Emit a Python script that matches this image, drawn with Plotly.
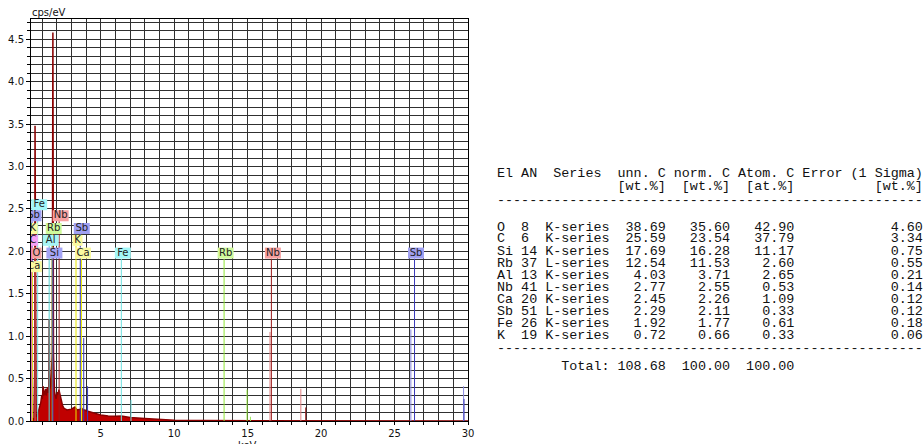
import plotly.graph_objects as go

# ---------------- spectrum (cps/eV vs keV) ----------------
spec_keV = [0.25, 0.27, 0.30, 0.45, 0.50, 0.525, 0.55, 0.60, 0.70, 0.80, 0.86, 0.92, 0.98, 1.02,
            1.08, 1.12, 1.16, 1.20, 1.24, 1.28, 1.33, 1.38, 1.42, 1.46, 1.487, 1.52, 1.60, 1.70,
            1.74, 1.78, 1.85, 1.95, 2.00, 2.05, 2.10, 2.15, 2.20, 2.25, 2.30, 2.40, 2.50, 2.70,
            3.00, 3.24, 3.30, 3.40, 3.60, 3.70, 3.80, 3.92, 4.00, 4.20, 4.40, 4.60, 5.00, 5.50,
            6.00, 6.40, 7.00, 8.00, 9.00, 10.0, 12.0, 30.0]
spec_cps = [0.00, 0.05, 0.03, 0.02, 0.60, 3.48, 0.60, 0.05, 0.08, 0.15, 0.17, 0.22, 0.30, 0.26,
            0.41, 0.30, 0.36, 0.31, 0.38, 0.30, 0.36, 0.40, 0.33, 0.38, 1.20, 0.38, 0.42, 0.80,
            4.58, 0.80, 0.35, 0.26, 0.30, 0.34, 0.31, 0.37, 0.33, 0.29, 0.24, 0.18, 0.15, 0.13,
            0.14, 0.165, 0.15, 0.13, 0.14, 0.15, 0.13, 0.13, 0.12, 0.11, 0.10, 0.09, 0.07, 0.06,
            0.055, 0.06, 0.04, 0.03, 0.02, 0.01, 0.005, 0.0]

# ---------------- element labels ----------------
lab_text = ["Fe", "Sb", "Nb", "K", "Rb", "Sb", "C", "Al", "K", "O", "Si", "Ca", "Fe", "Rb", "Nb", "Sb", "Ca"]
lab_line_keV = [0.705, 0.32, 2.166, 0.26, 1.694, 3.604, 0.277, 1.487, 3.314, 0.525, 1.740, 3.690,
                6.400, 13.395, 16.615, 26.359, 0.341]
lab_level = [2.55, 2.42, 2.42, 2.27, 2.27, 2.27, 2.13, 2.13, 2.13, 1.98, 1.98, 1.98, 1.98, 1.98,
             1.98, 1.98, 1.82]

# ---------------- theoretical line intensities ----------------
peak_el = ["Rb", "Rb", "Nb", "Nb", "Nb", "Sb", "Sb", "Sb", "Fe", "Sb", "Sb", "Ca"]
peak_keV = [14.96, 15.19, 16.52, 18.62, 18.95, 26.11, 29.70, 29.73, 7.06, 3.84, 4.10, 3.70]
peak_cps = [0.37, 0.05, 1.05, 0.38, 0.16, 1.08, 0.41, 0.26, 0.25, 0.98, 0.41, 0.31]
peak_dark = [True, False, False, False, True, False, False, True, False, True, True, False]

# ---------------- quantification table ----------------
tab_el = ["O", "C", "Si", "Rb", "Al", "Nb", "Ca", "Sb", "Fe", "K"]
tab_an = [8, 6, 14, 37, 13, 41, 20, 51, 26, 19]
tab_series = ["K-series", "K-series", "K-series", "L-series", "K-series", "L-series",
              "K-series", "L-series", "K-series", "K-series"]
tab_unn = [38.69, 25.59, 17.69, 12.54, 4.03, 2.77, 2.45, 2.29, 1.92, 0.72]
tab_norm = [35.60, 23.54, 16.28, 11.53, 3.71, 2.55, 2.26, 2.11, 1.77, 0.66]
tab_atom = [42.90, 37.79, 11.17, 2.60, 2.65, 0.53, 1.09, 0.33, 0.61, 0.33]
tab_err = [4.60, 3.34, 0.75, 0.55, 0.21, 0.14, 0.12, 0.12, 0.18, 0.06]
tab_total = [108.68, 100.00, 100.00]

# colours (box fill, line)
el_colors = {
    "Fe": ("#a3f7f7", "#6ee0e0"),
    "Sb": ("#a0a0f2", "#3a3ab8"),
    "Nb": ("#f7a0a0", "#9a1c1c"),
    "K": ("#fafaa0", "#e8e800"),
    "Rb": ("#d0fa9c", "#8fe636"),
    "C": ("#f7a0f7", "#e050e0"),
    "Al": ("#a8f5f5", "#58d4d4"),
    "O": ("#f7a0a0", "#e06868"),
    "Si": ("#a4a4f5", "#4646cc"),
    "Ca": ("#fafaa0", "#e8e800"),
}
light_line = {"Rb": "#9ae85a", "Nb": "#e08080", "Sb": "#8888e0", "Fe": "#70e0e0", "Ca": "#f0a040"}

X0, X1 = 0.25, 30.0
Y0, Y1 = 0.0, 4.74
PX_L, PX_R, PX_T, PX_B = 31, 468, 19, 421
kev_per_px = (X1 - X0) / (PX_R - PX_L)
cps_per_px = (Y1 - Y0) / (PX_B - PX_T)

fig = go.Figure()

# spectrum
fig.add_trace(go.Scatter(x=spec_keV, y=spec_cps, mode="lines", fill="tozeroy",
                         line=dict(color="#8a0000", width=1.5), fillcolor="#c00000",
                         hoverinfo="skip", showlegend=False))

# light theoretical lines
for el, e, h, dark in zip(peak_el, peak_keV, peak_cps, peak_dark):
    col = el_colors[el][1] if dark else light_line[el]
    fig.add_trace(go.Scatter(x=[e, e], y=[0, h], mode="lines", line=dict(color=col, width=1),
                             hoverinfo="skip", showlegend=False))

# marker lines
box_h = 11 * cps_per_px
for t, e, lv in zip(lab_text, lab_line_keV, lab_level):
    fig.add_trace(go.Scatter(x=[e, e], y=[0, lv - box_h / 2], mode="lines",
                             line=dict(color=el_colors[t][1], width=1), hoverinfo="skip",
                             showlegend=False))

# label boxes (filled polygons, clipped to the plot area) then their text
for t, e, lv in zip(lab_text, lab_line_keV, lab_level):
    fill = el_colors[t][0]
    w = (16 if len(t) == 2 else 10) * kev_per_px
    cx = e + 1.5 * kev_per_px
    xa, xb = cx - w / 2, cx + w / 2
    ya, yb = lv - box_h / 2, lv + box_h / 2
    fig.add_trace(go.Scatter(x=[xa, xb, xb, xa, xa], y=[ya, ya, yb, yb, ya], mode="lines",
                             fill="toself", fillcolor=fill, line=dict(width=0, color=fill),
                             hoverinfo="skip", showlegend=False))
for t, e, lv in zip(lab_text, lab_line_keV, lab_level):
    cx = e + 1.5 * kev_per_px
    fig.add_trace(go.Scatter(x=[cx], y=[lv], mode="text", text=[t], cliponaxis=True,
                             textfont=dict(family="DejaVu Sans", size=10, color="#222"),
                             hoverinfo="skip", showlegend=False))

# table as monospace text lines
NB = "\u00a0"
def mono(s):
    return s.replace(" ", NB)

lines = []
lines.append(("El AN  Series  unn. C norm. C Atom. C Error (1 Sigma)", 173))
lines.append((" " * 15 + "[wt.%]  [wt.%]  [at.%]" + " " * 10 + "[wt.%]", 186))
lines.append(("-" * 53, 200))
for i in range(len(tab_el)):
    s = f"{tab_el[i]:<2} {tab_an[i]:<2} {tab_series[i]:<8}{tab_unn[i]:>7.2f}{tab_norm[i]:>8.2f}{tab_atom[i]:>8.2f}{tab_err[i]:>16.2f}"
    lines.append((s, 227 + 12 * i))
lines.append(("-" * 53, 348))
lines.append((f"{'Total:':>14}{tab_total[0]:>7.2f}{tab_total[1]:>8.2f}{tab_total[2]:>8.2f}", 366))

annotations = []
for s, ypx in lines:
    annotations.append(dict(xref="paper", yref="paper", x=(496 - PX_L) / (PX_R - PX_L),
                            y=(PX_B - ypx) / (PX_B - PX_T), xanchor="left", yanchor="middle",
                            text=mono(s), showarrow=False, borderpad=0,
                            font=dict(family="Liberation Mono", size=13.4, color="#111")))

annotations.append(dict(xref="paper", yref="paper", x=0.0, y=1.0, xanchor="left", yanchor="bottom",
                        text="cps/eV", showarrow=False, borderpad=0,
                        font=dict(family="DejaVu Sans", size=10, color="#111")))
annotations.append(dict(xref="x", yref="paper", x=15.0, y=-(445 - PX_B) / (PX_B - PX_T),
                        xanchor="center", yanchor="middle", text="keV", showarrow=False,
                        borderpad=0, font=dict(family="DejaVu Sans", size=10, color="#111")))

grid_col = "#303030"
fig.update_layout(
    width=924, height=444,
    margin=dict(l=PX_L, r=924 - PX_R, t=PX_T, b=444 - PX_B),
    paper_bgcolor="white", plot_bgcolor="white",
    annotations=annotations,
    xaxis=dict(range=[X0, X1], tick0=0, dtick=5, showgrid=True, gridcolor=grid_col, gridwidth=1,
               ticks="outside", ticklen=3, tickcolor="black", zeroline=False, automargin=False,
               showline=True, linecolor="black", linewidth=1, mirror=True,
               minor=dict(dtick=1, showgrid=True, gridcolor=grid_col, ticks="outside", ticklen=3,
                          tickcolor="black"),
               tickfont=dict(family="DejaVu Sans", size=10, color="#111")),
    yaxis=dict(range=[Y0, Y1], tick0=0, dtick=0.5, tickformat=".1f", showgrid=True,
               gridcolor=grid_col, gridwidth=1, ticks="outside", ticklen=4, tickcolor="black",
               zeroline=False, showline=True, linecolor="black", linewidth=1, mirror=True,
               automargin=False,
               minor=dict(dtick=0.1, showgrid=True, gridcolor=grid_col, ticks="outside", ticklen=3,
                          tickcolor="black"),
               tickfont=dict(family="DejaVu Sans", size=10, color="#111")),
)

fig.write_html("out.html", config={"displayModeBar": False},
               post_script="document.body.style.margin='0';")
